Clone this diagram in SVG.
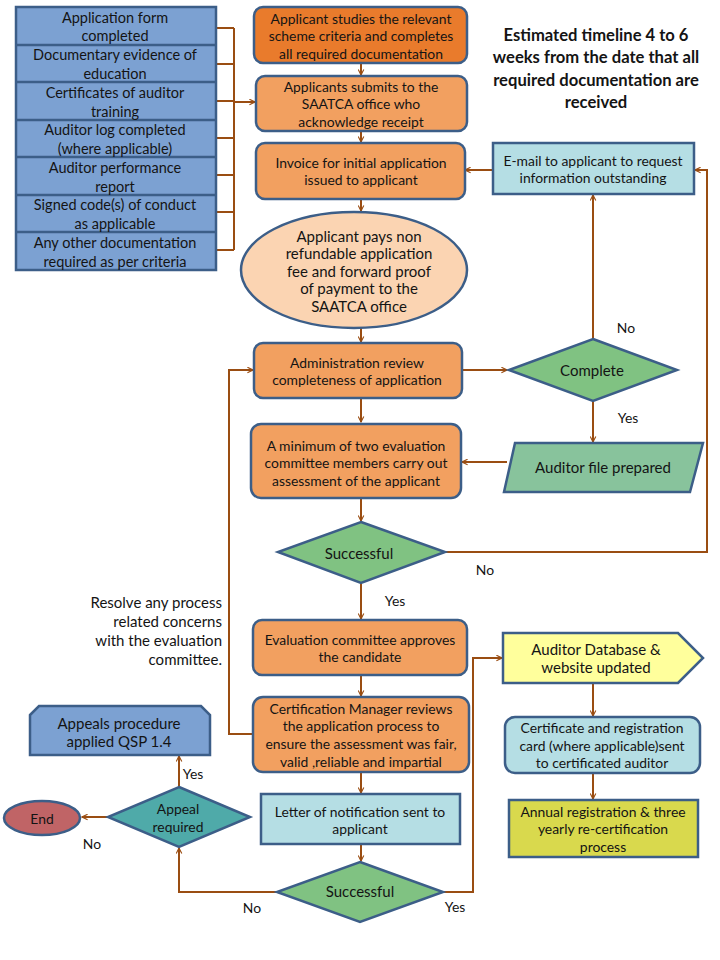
<svg xmlns="http://www.w3.org/2000/svg" width="720" height="960" viewBox="0 0 720 960">
<style>
text{font-family:Lato,"Liberation Sans",sans-serif;fill:#141414;text-anchor:middle;dominant-baseline:central}
.t{font-size:13.9px}
.b{font-size:15px}
.l{font-size:14.5px}
.h{font-size:16.6px;font-weight:bold}
.n{stroke:#3c5e88;stroke-width:2.5}
.c{fill:none;stroke:#9a4d12;stroke-width:2}
.a{marker-end:url(#ah)}
.o1{fill:#e97b2c}
.o2{fill:#f2a060}
.bl{fill:#7ca1d2}
.cy{fill:#b5dee4}
.gr{fill:#80c282}
</style>
<defs>
<marker id="ah" viewBox="0 0 10 10" refX="9" refY="5" markerWidth="7" markerHeight="7" markerUnits="userSpaceOnUse" orient="auto">
<path d="M1,1 L9,5 L1,9" fill="none" stroke="#9a4d12" stroke-width="1.6"/>
</marker>
</defs>
<rect width="720" height="960" fill="#ffffff"/>

<g id="connectors">
<path class="c" d="M216,28H234M216,64H234M216,101H234M216,138H234M216,175H234M216,212H234M216,250H234M234,28V250"/>
<path class="c a" d="M234,102H255"/>
<path class="c a" d="M361,63V75"/>
<path class="c a" d="M361,131V142"/>
<path class="c a" d="M361,199V211"/>
<path class="c a" d="M361,328V342"/>
<path class="c a" d="M361,399V422"/>
<path class="c a" d="M361,499V521"/>
<path class="c a" d="M361,583V619"/>
<path class="c a" d="M361,675V696"/>
<path class="c a" d="M361,772V793"/>
<path class="c a" d="M361,845V861"/>
<path class="c a" d="M462,370H507"/>
<path class="c a" d="M593,339V195"/>
<path class="c a" d="M493,170H465"/>
<path class="c a" d="M593,401V442"/>
<path class="c a" d="M507,462H462"/>
<path class="c a" d="M445,552H707V170H695"/>
<path class="c a" d="M253,734H229V370H253"/>
<path class="c a" d="M443,892H473V658H502"/>
<path class="c a" d="M593,683V716"/>
<path class="c a" d="M593,773V799"/>
<path class="c a" d="M277,892H179V848"/>
<path class="c a" d="M179,787V756"/>
<path class="c a" d="M108,817H82"/>
</g>

<g id="documents">
<rect class="n bl" x="16" y="7" width="200" height="263"/>
<path d="M16,45H216M16,82H216M16,120H216M16,157H216M16,195H216M16,232H216" stroke="#3c5e88" stroke-width="2.5"/>
<text class="l" x="115" y="17">Application form</text>
<text class="l" x="115" y="35">completed</text>
<text class="l" x="115" y="54">Documentary evidence of</text>
<text class="l" x="115" y="73">education</text>
<text class="l" x="115" y="92">Certificates of auditor</text>
<text class="l" x="115" y="111">training</text>
<text class="l" x="115" y="129">Auditor log completed</text>
<text class="l" x="115" y="148">(where applicable)</text>
<text class="l" x="115" y="167">Auditor performance</text>
<text class="l" x="115" y="186">report</text>
<text class="l" x="115" y="204">Signed code(s) of conduct</text>
<text class="l" x="115" y="223">as applicable</text>
<text class="l" x="115" y="242">Any other documentation</text>
<text class="l" x="115" y="261">required as per criteria</text>
</g>

<g id="title">
<text class="h" x="596" y="35">Estimated timeline  4 to 6</text>
<text class="h" x="596" y="57">weeks from the date that all</text>
<text class="h" x="596" y="80">required documentation are</text>
<text class="h" x="596" y="102">received</text>
</g>

<g id="studies">
<rect class="n o1" x="254" y="7" width="213" height="56" rx="9"/>
<text class="t" x="361" y="18">Applicant studies the relevant</text>
<text class="t" x="361" y="35">scheme criteria and completes</text>
<text class="t" x="361" y="53">all required documentation</text>
</g>

<g id="submits">
<rect class="n o2" x="256" y="76" width="211" height="55" rx="9"/>
<text class="t" x="361" y="86">Applicants submits to the</text>
<text class="t" x="361" y="103">SAATCA office who</text>
<text class="t" x="361" y="121">acknowledge receipt</text>
</g>

<g id="invoice">
<rect class="n o2" x="256" y="143" width="209" height="56" rx="9"/>
<text class="t" x="361" y="162">Invoice for initial application</text>
<text class="t" x="361" y="179">issued to applicant</text>
</g>

<g id="pays">
<ellipse class="n" cx="354" cy="270" rx="113" ry="58" fill="#fbd4b2"/>
<text class="b" x="359" y="236">Applicant pays  non</text>
<text class="b" x="359" y="253">refundable application</text>
<text class="b" x="359" y="271">fee and forward proof</text>
<text class="b" x="359" y="288">of payment to the</text>
<text class="b" x="359" y="306">SAATCA office</text>
</g>

<g id="email">
<rect class="n cy" x="493" y="143" width="201" height="51"/>
<text class="t" x="593" y="160">E-mail to applicant to request</text>
<text class="t" x="593" y="177">information outstanding</text>
</g>

<g id="admin">
<rect class="n o2" x="254" y="343" width="208" height="55" rx="9"/>
<text class="t" x="357" y="362">Administration review</text>
<text class="t" x="357" y="379">completeness of application</text>
</g>

<g id="complete">
<polygon class="n gr" points="593,339 677,370 593,401 509,370"/>
<text class="b" x="592" y="370">Complete</text>
</g>
<text class="t" x="626" y="327">No</text>
<text class="t" x="628" y="417">Yes</text>

<g id="assessment">
<rect class="n o2" x="251" y="424" width="210" height="74" rx="10"/>
<text class="t" x="356" y="445">A minimum of two evaluation</text>
<text class="t" x="356" y="462">committee members carry out</text>
<text class="t" x="356" y="480">assessment of the  applicant</text>
</g>

<g id="auditorfile">
<polygon class="n" points="515,443 703,443 690,492 504,492" fill="#88c39c"/>
<text class="b" x="603" y="467">Auditor  file prepared</text>
</g>

<g id="successful1">
<polygon class="n gr" points="361,522 445,552 361,583 278,552"/>
<text class="b" x="359" y="553">Successful</text>
</g>
<text class="t" x="485" y="569">No</text>
<text class="t" x="395" y="600">Yes</text>

<text class="b" x="222" y="602" style="text-anchor:end">Resolve any process</text>
<text class="b" x="222" y="621" style="text-anchor:end">related concerns</text>
<text class="b" x="222" y="640" style="text-anchor:end">with the evaluation</text>
<text class="b" x="222" y="659" style="text-anchor:end">committee.</text>

<g id="approves">
<rect class="n o2" x="253" y="620" width="214" height="55" rx="9"/>
<text class="t" x="360" y="639">Evaluation committee approves</text>
<text class="t" x="360" y="656">the candidate</text>
</g>

<g id="manager">
<rect class="n o2" x="253" y="697" width="216" height="75" rx="10"/>
<text class="t" x="361" y="708">Certification Manager reviews</text>
<text class="t" x="361" y="725">the application process to</text>
<text class="t" x="361" y="743">ensure the assessment was fair,</text>
<text class="t" x="361" y="761">valid ,reliable and impartial</text>
</g>

<g id="letter">
<rect class="n cy" x="261" y="794" width="199" height="50"/>
<text class="t" x="360" y="811">Letter of notification sent to</text>
<text class="t" x="360" y="828">applicant</text>
</g>

<g id="successful2">
<polygon class="n gr" points="360,862 443,892 360,922 277,892"/>
<text class="b" x="360" y="891">Successful</text>
</g>
<text class="t" x="252" y="907">No</text>
<text class="t" x="455" y="906">Yes</text>

<g id="appeals">
<path class="n bl" d="M30,715 L39,706 H201 L210,715 V755 H30 Z"/>
<text class="b" x="119" y="723">Appeals procedure</text>
<text class="b" x="119" y="741">applied QSP 1.4</text>
</g>

<g id="appeal">
<polygon class="n" points="179,787 250,817 179,847 108,817" fill="#4faaa9"/>
<text class="t" x="178" y="808">Appeal</text>
<text class="t" x="178" y="826">required</text>
</g>
<text class="t" x="193" y="773">Yes</text>
<text class="t" x="92" y="843">No</text>

<g id="end">
<ellipse class="n" cx="42" cy="818" rx="38" ry="17" fill="#c06466"/>
<text class="t" x="42" y="818">End</text>
</g>

<g id="database">
<path class="n" d="M503,633 H678 L703,658 L678,683 H503 Z" fill="#ffff9c"/>
<text class="b" x="596" y="649">Auditor  Database &amp;</text>
<text class="b" x="596" y="667">website updated</text>
</g>

<g id="certificate">
<rect class="n cy" x="505" y="717" width="195" height="56" rx="10"/>
<text class="t" x="602" y="727">Certificate and registration</text>
<text class="t" x="602" y="745">card (where applicable)sent</text>
<text class="t" x="602" y="762">to certificated auditor</text>
</g>

<g id="annual">
<rect class="n" x="509" y="800" width="189" height="57" fill="#d9d94d"/>
<text class="t" x="603" y="811">Annual registration &amp;  three</text>
<text class="t" x="603" y="828">yearly re-certification</text>
<text class="t" x="603" y="846">process</text>
</g>
</svg>
